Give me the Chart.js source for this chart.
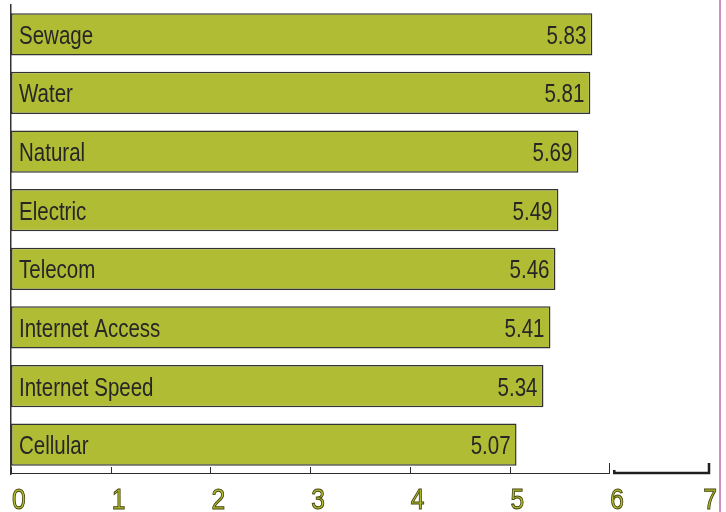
<!DOCTYPE html>
<html>
<head>
<meta charset="utf-8">
<script src="https://cdn.jsdelivr.net/npm/chart.js@4/dist/chart.umd.min.js"></script>
<style>
  html, body { margin: 0; padding: 0; background: #ffffff; }
  #wrap { position: relative; width: 726px; height: 512px; }
  #edge { position: absolute; left: 719px; top: 0; width: 2px; height: 512px; background: #d08ccb; }
</style>
</head>
<body>
<div id="wrap">
  <canvas id="chart" width="726" height="512"></canvas>
  <div id="edge"></div>
</div>
<script>
// Infrastructure ratings, one bar per service
const categories = ['Sewage', 'Water', 'Natural', 'Electric', 'Telecom', 'Internet Access', 'Internet Speed', 'Cellular'];
const scores = [5.83, 5.81, 5.69, 5.49, 5.46, 5.41, 5.34, 5.07];
const xTickValues = [0, 1, 2, 3, 4, 5, 6, 7];
const xTickLabels = ['0', '1', '2', '3', '4', '5', '6', '7'];

const FONT = '"Liberation Sans", Arial, sans-serif';
const SQUEEZE = 0.82;   // condensed look for all lettering
const INK = '#262626';

// Draws text squeezed horizontally, anchored at (x, y)
function condensedText(ctx, text, x, y, align, stroke) {
  ctx.save();
  ctx.translate(x, y);
  ctx.scale(SQUEEZE, 1);
  ctx.textAlign = align;
  ctx.fillText(text, 0, 0);
  if (stroke) ctx.strokeText(text, 0, 0);
  ctx.restore();
}

// Category name at the left end and value at the right end of every bar
const barText = {
  id: 'barText',
  afterDatasetsDraw(chart) {
    const ctx = chart.ctx;
    const meta = chart.getDatasetMeta(0);
    ctx.save();
    ctx.font = '25px ' + FONT;
    ctx.fillStyle = INK;
    ctx.textBaseline = 'alphabetic';
    meta.data.forEach((bar, i) => {
      const base = bar.y + 9.5;
      condensedText(ctx, categories[i], bar.base + 8, base, 'left', false);
      condensedText(ctx, scores[i].toFixed(2), bar.x - 6, base, 'right', false);
    });
    ctx.restore();
  }
};

// Bottom axis: thin ruled segment 0–6 with inward ticks, heavier bracket 6–7, outlined numerals
const bottomAxis = {
  id: 'bottomAxis',
  afterDraw(chart) {
    const ctx = chart.ctx;
    const sx = chart.scales.x;
    const y = chart.chartArea.bottom;
    ctx.save();
    ctx.strokeStyle = '#2b2b2b';
    ctx.lineWidth = 1;
    ctx.beginPath();
    ctx.moveTo(sx.getPixelForValue(0), y - 0.5);
    ctx.lineTo(sx.getPixelForValue(6), y - 0.5);
    xTickValues.filter(v => v <= 6).forEach(v => {
      const px = Math.round(sx.getPixelForValue(v)) + 0.5;
      ctx.moveTo(px, y);
      ctx.lineTo(px, y - (v === 6 ? 11 : 7));
    });
    ctx.stroke();

    const a = sx.getPixelForValue(6) + 5;
    const b = sx.getPixelForValue(7);
    ctx.lineWidth = 2.5;
    ctx.strokeStyle = '#1e1e1e';
    ctx.beginPath();
    ctx.moveTo(a, y - 4);
    ctx.lineTo(a, y - 1);
    ctx.lineTo(b, y - 1);
    ctx.lineTo(b, y - 11);
    ctx.stroke();

    ctx.font = '30px ' + FONT;
    ctx.fillStyle = '#b5c02f';
    ctx.strokeStyle = '#45450f';
    ctx.lineWidth = 1;
    ctx.textBaseline = 'alphabetic';
    xTickValues.forEach((v, i) => {
      const px = sx.getPixelForValue(v);
      const last = i === xTickValues.length - 1;
      condensedText(ctx, xTickLabels[i], last ? px + 8 : px + 1, y + 35, last ? 'right' : 'left', true);
    });
    ctx.restore();
  }
};

new Chart(document.getElementById('chart'), {
  type: 'bar',
  data: {
    labels: categories,
    datasets: [{
      data: scores,
      backgroundColor: '#b1bc35',
      borderColor: '#333333',
      borderWidth: 1.5,
      borderSkipped: false,
      barPercentage: 0.72,
      categoryPercentage: 1
    }]
  },
  options: {
    indexAxis: 'y',
    responsive: false,
    animation: false,
    layout: { padding: { left: 0, right: 17, top: 5, bottom: 0 } },
    plugins: {
      legend: { display: false },
      tooltip: { enabled: false }
    },
    scales: {
      x: {
        type: 'linear',
        min: 0,
        max: 7,
        afterBuildTicks(scale) { scale.ticks = xTickValues.map(v => ({ value: v })); },
        afterFit(scale) { scale.height = 38; },
        grid: { display: false, drawTicks: false },
        border: { display: false },
        ticks: { display: false }
      },
      y: {
        afterFit(scale) { scale.width = 11; },
        grid: { display: false, drawTicks: false },
        border: { display: true, color: '#333333', width: 1.5 },
        ticks: { display: false }
      }
    }
  },
  plugins: [barText, bottomAxis]
});
</script>
</body>
</html>
